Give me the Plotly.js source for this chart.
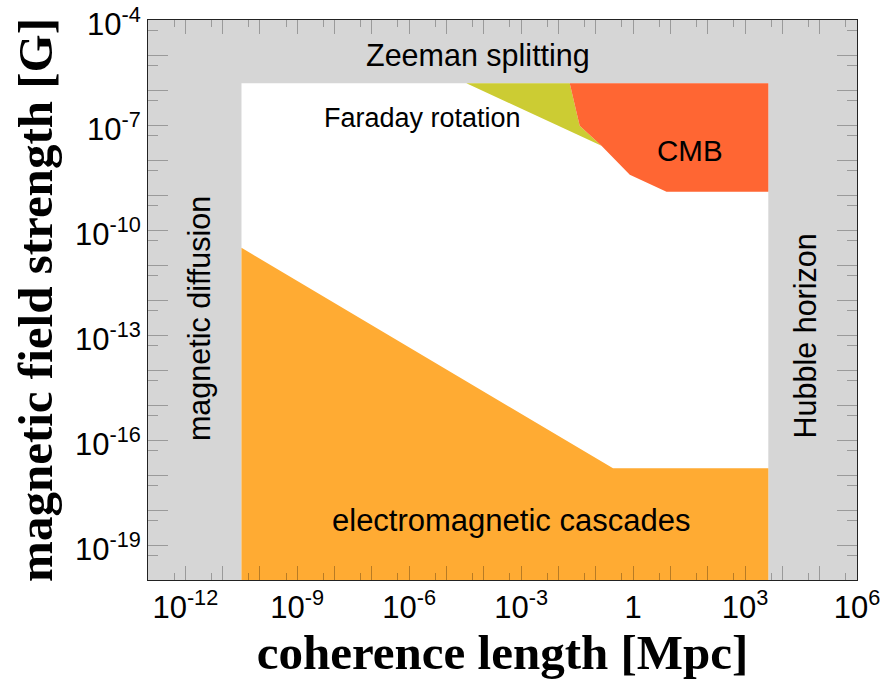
<!DOCTYPE html>
<html>
<head>
<meta charset="utf-8">
<script src="https://cdn.plot.ly/plotly-3.0.1.min.js"></script>
<style>html,body{margin:0;padding:0;background:#fff;}#chart{width:883px;height:691px;}</style>
</head>
<body>
<div id="chart"></div>
<script>
// ---- data (coherence length in Mpc, field strength in G) ----
const xRange = [1e-13, 1e6];
const yRange = [1e-20, 1e-4];

const diffusionBandX = [1e-13, 3.2e-11, 3.2e-11, 1e-13];
const diffusionBandY = [1e-20, 1e-20, 1e-4, 1e-4];

const hubbleBandX = [4.2e3, 1e6, 1e6, 4.2e3];
const hubbleBandY = [1e-20, 1e-20, 1e-4, 1e-4];

const zeemanBandX = [1e-13, 1e6, 1e6, 1e-13];
const zeemanBandY = [1.55e-6, 1.55e-6, 1e-4, 1e-4];

const cascadeX = [3.2e-11, 0.29, 4.2e3, 4.2e3, 3.2e-11];
const cascadeY = [3.1e-11, 1.55e-17, 1.55e-17, 1e-20, 1e-20];

const faradayX = [3.4e-5, 0.020, 0.037, 0.142];
const faradayY = [1.55e-6, 1.55e-6, 9.5e-8, 2.56e-8];

const cmbX = [0.020, 4.2e3, 4.2e3, 7.85, 0.815, 0.142, 0.037];
const cmbY = [1.55e-6, 1.55e-6, 1.24e-9, 1.24e-9, 3.8e-9, 2.56e-8, 9.5e-8];

// labelled decades
const xTickVals = [1e-12, 1e-9, 1e-6, 1e-3, 1, 1e3, 1e6];
const xTickText = ['10<sup>-12</sup>','10<sup>-9</sup>','10<sup>-6</sup>','10<sup>-3</sup>','1','10<sup>3</sup>','10<sup>6</sup>'];
// unlabelled decades (long ticks, no label)
const xPlainDecades = [1e-13,1e-11,1e-10,1e-8,1e-7,1e-5,1e-4,1e-2,1e-1,1e1,1e2,1e4,1e5];
const xMinorVals = [5e-13,5e-12,5e-11,5e-10,5e-9,5e-8,5e-7,5e-6,5e-5,5e-4,5e-3,5e-2,5e-1,5,50,500,5e3,5e4,5e5];

const yTickVals = [1e-19, 1e-16, 1e-13, 1e-10, 1e-7, 1e-4];
const yTickText = ['10<sup>-19</sup>','10<sup>-16</sup>','10<sup>-13</sup>','10<sup>-10</sup>','10<sup>-7</sup>','10<sup>-4</sup>'];
const yPlainDecades = [1e-20,1e-18,1e-17,1e-15,1e-14,1e-12,1e-11,1e-9,1e-8,1e-6,1e-5];
const yMinorVals = [5e-20,5e-19,5e-18,5e-17,5e-16,5e-15,5e-14,5e-13,5e-12,5e-11,5e-10,5e-9,5e-8,5e-7,5e-6,5e-5];

const labels = ['Zeeman splitting','Faraday rotation','CMB','magnetic diffusion','Hubble horizon','electromagnetic cascades'];

// ---- style ----
const GRAY = '#d6d6d6';
const ORANGE = '#ffab33';
const RED = '#ff6633';
const OLIVE = '#cccc33';

function poly(x, y, color) {
  return {x: x, y: y, type: 'scatter', mode: 'lines', fill: 'toself',
          fillcolor: color, line: {width: 0, color: color}, hoverinfo: 'skip', showlegend: false};
}

const traces = [
  poly(diffusionBandX, diffusionBandY, GRAY),
  poly(hubbleBandX, hubbleBandY, GRAY),
  poly(zeemanBandX, zeemanBandY, GRAY),
  poly(cascadeX, cascadeY, ORANGE),
  poly(faradayX, faradayY, OLIVE),
  poly(cmbX, cmbY, RED),
  {x: [xRange[0]], y: [yRange[0]], xaxis: 'x2', yaxis: 'y2', type: 'scatter', mode: 'markers',
   marker: {size: 1, opacity: 0}, hoverinfo: 'skip', showlegend: false}
];

const tickFont = {family: 'Liberation Sans, Arial, sans-serif', size: 31, color: '#000'};
const titleFont = {family: 'Liberation Serif, Times New Roman, serif', size: 49, color: '#000', weight: 'bold'};
const txtFont = {family: 'Liberation Sans, Arial, sans-serif', size: 30.5, color: '#000'};
const TICKC = 'rgba(0,0,0,0.28)';

const xLogRange = [Math.log10(xRange[0]), Math.log10(xRange[1])];
const yLogRange = [Math.log10(yRange[0]), Math.log10(yRange[1])];

const layout = {
  width: 883, height: 691,
  margin: {l: 148, r: 26, t: 20, b: 111},
  paper_bgcolor: '#fff', plot_bgcolor: '#fff',
  showlegend: false, hovermode: false,
  xaxis: {
    type: 'log', range: xLogRange,
    tickmode: 'array', tickvals: xTickVals, ticktext: xTickText,
    ticks: 'inside', ticklen: 14, tickwidth: 1, tickcolor: TICKC,
    minor: {tickmode: 'array', tickvals: xMinorVals, ticks: 'inside', ticklen: 7, tickwidth: 1, tickcolor: TICKC, showgrid: false},
    showgrid: false, zeroline: false,
    showline: true, linecolor: '#222', linewidth: 1, mirror: 'ticks',
    tickfont: tickFont, ticklabeloverflow: 'allow',
    title: {text: 'coherence length [Mpc]', font: titleFont, standoff: 5}
  },
  yaxis: {
    type: 'log', range: yLogRange,
    tickmode: 'array', tickvals: yTickVals, ticktext: yTickText,
    ticks: 'inside', ticklen: 20, tickwidth: 1, tickcolor: TICKC,
    minor: {tickmode: 'array', tickvals: yMinorVals, ticks: 'inside', ticklen: 10, tickwidth: 1, tickcolor: TICKC, showgrid: false},
    showgrid: false, zeroline: false,
    showline: true, linecolor: '#222', linewidth: 1, mirror: 'ticks',
    tickfont: tickFont, ticklabeloverflow: 'allow', ticklabelshift: 4,
    title: {text: 'magnetic field strength [G]', font: titleFont, standoff: 6}
  },
  xaxis2: {
    type: 'log', range: xLogRange, overlaying: 'x', anchor: 'y2', side: 'bottom',
    tickmode: 'array', tickvals: xPlainDecades, showticklabels: false,
    ticks: 'inside', ticklen: 14, tickwidth: 1, tickcolor: TICKC,
    showgrid: false, zeroline: false, showline: false, mirror: 'ticks'
  },
  yaxis2: {
    type: 'log', range: yLogRange, overlaying: 'y', anchor: 'x2', side: 'left',
    tickmode: 'array', tickvals: yPlainDecades, showticklabels: false,
    ticks: 'inside', ticklen: 20, tickwidth: 1, tickcolor: TICKC,
    showgrid: false, zeroline: false, showline: false, mirror: 'ticks'
  },
  annotations: [
    {x: -4.16, y: -5.02, text: labels[0], showarrow: false, font: txtFont, xanchor: 'center', yanchor: 'middle'},
    {x: -5.64, y: -6.79, text: labels[1], showarrow: false, font: {family: txtFont.family, size: 27, color: '#000'}, xanchor: 'center', yanchor: 'middle'},
    {x: 1.52, y: -7.73, text: labels[2], showarrow: false, font: {family: txtFont.family, size: 29.5, color: '#000'}, xanchor: 'center', yanchor: 'middle'},
    {x: -11.62, y: -12.53, text: labels[3], showarrow: false, font: txtFont, textangle: -90, xanchor: 'center', yanchor: 'middle'},
    {x: 4.6, y: -13.02, text: labels[4], showarrow: false, font: txtFont, textangle: -90, xanchor: 'center', yanchor: 'middle'},
    {x: -3.26, y: -18.3, text: labels[5], showarrow: false, font: {family: txtFont.family, size: 31, color: '#000'}, xanchor: 'center', yanchor: 'middle'}
  ]
};

Plotly.newPlot('chart', traces, layout, {staticPlot: true, displayModeBar: false});
</script>
</body>
</html>
